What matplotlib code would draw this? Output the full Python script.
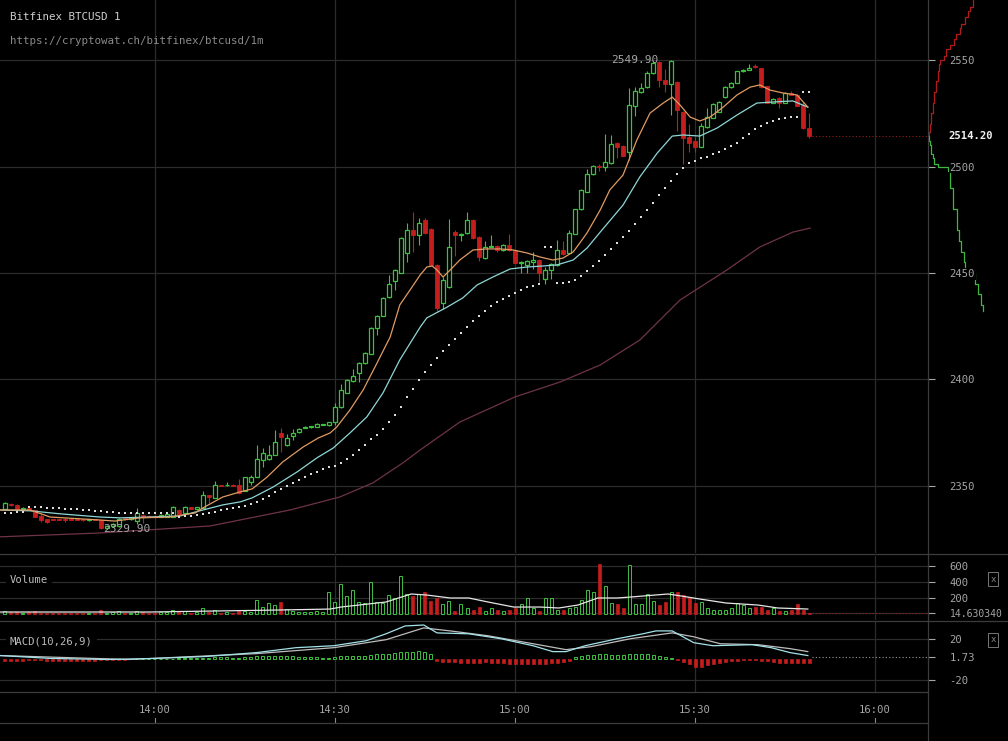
import numpy as np
import matplotlib.pyplot as plt
from matplotlib.lines import Line2D

# Candles, one per minute, first one at 13:35 (minute -25 from 14:00)
first_minute = -25
opens = [2339.2, 2341.6, 2341.1, 2339.2, 2339.6, 2338.5, 2335.8, 2334.4, 2334.4, 2334.4,
         2334.6, 2334.2, 2334.2, 2334.0, 2333.8, 2334.0, 2333.8, 2330.4, 2331.2, 2331.2,
         2334.6, 2334.4, 2333.4, 2336.4, 2336.0, 2335.9, 2335.4, 2335.6, 2335.6, 2338.6,
         2337.4, 2339.9, 2339.2, 2339.7, 2345.6, 2344.4, 2350.3, 2350.2, 2350.4, 2350.5,
         2347.6, 2352.0, 2354.2, 2362.2, 2362.7, 2364.6, 2374.9, 2369.2, 2373.5, 2375.4,
         2377.3, 2377.6, 2377.8, 2378.6, 2378.4, 2380.0, 2387.0, 2393.7, 2399.3, 2403.1,
         2407.5, 2412.0, 2424.2, 2429.8, 2438.7, 2446.2, 2450.0, 2459.4, 2470.2, 2467.8,
         2474.9, 2470.7, 2453.8, 2436.0, 2443.6, 2469.2, 2467.8, 2468.8, 2474.9, 2466.9,
         2457.0, 2462.3, 2462.5, 2460.8, 2463.1, 2460.8, 2454.7, 2453.8, 2455.0, 2456.0,
         2447.2, 2451.4, 2453.8, 2460.8, 2459.4, 2468.4, 2480.0, 2488.0, 2496.5, 2500.4,
         2499.8, 2501.6, 2511.0, 2509.6, 2506.8, 2528.4, 2535.0, 2537.3, 2543.9, 2549.0,
         2540.6, 2538.7, 2539.7, 2525.6, 2513.8, 2512.0, 2509.2, 2518.5, 2522.8, 2525.6,
         2532.6, 2537.3, 2539.2, 2544.8, 2545.3, 2547.3, 2546.2, 2537.8, 2529.8, 2532.2,
         2529.8, 2534.5, 2533.6, 2528.9, 2518.1]
highs = [2342.5, 2341.8, 2341.5, 2340.2, 2339.8, 2338.8, 2336.6, 2334.6, 2334.6, 2334.6,
         2334.8, 2334.4, 2334.4, 2334.2, 2334.2, 2334.2, 2334.0, 2331.8, 2332.6, 2335.0,
         2334.8, 2334.8, 2339.7, 2336.6, 2336.2, 2336.1, 2336.6, 2336.8, 2340.6, 2339.0,
         2340.6, 2340.2, 2340.2, 2347.4, 2345.9, 2352.3, 2350.6, 2351.8, 2350.7, 2353.3,
         2354.4, 2355.2, 2369.2, 2368.0, 2369.2, 2376.3, 2377.3, 2374.4, 2376.8, 2377.0,
         2378.0, 2378.0, 2379.4, 2379.0, 2380.2, 2388.8, 2398.0, 2400.0, 2404.7, 2408.0,
         2413.0, 2424.4, 2430.3, 2438.5, 2449.0, 2451.8, 2466.8, 2473.5, 2478.6, 2475.6,
         2476.0, 2471.0, 2454.0, 2448.0, 2475.2, 2470.0, 2468.6, 2478.6, 2475.2, 2467.2,
         2465.0, 2468.0, 2463.0, 2463.4, 2468.5, 2461.0, 2455.4, 2456.0, 2460.0, 2456.4,
         2453.0, 2454.5, 2465.5, 2465.0, 2470.0, 2480.2, 2489.3, 2498.6, 2500.6, 2501.0,
         2515.5, 2514.7, 2511.4, 2509.9, 2537.0, 2537.5, 2539.0, 2545.0, 2549.4, 2549.4,
         2546.0, 2549.9, 2540.0, 2526.0, 2520.0, 2514.0, 2520.4, 2527.5, 2529.6, 2530.6,
         2537.6, 2539.5, 2545.0, 2545.6, 2548.0, 2548.0, 2546.5, 2538.0, 2532.0, 2532.5,
         2534.8, 2535.6, 2534.0, 2530.2, 2525.0]
lows = [2338.5, 2340.8, 2338.8, 2339.0, 2338.5, 2335.2, 2333.0, 2332.8, 2334.0, 2334.0,
        2333.2, 2333.8, 2333.8, 2333.6, 2333.6, 2333.8, 2329.9, 2330.0, 2330.8, 2330.8,
        2334.2, 2334.2, 2332.0, 2332.8, 2335.2, 2335.0, 2335.2, 2335.4, 2335.2, 2336.2,
        2337.2, 2339.0, 2338.9, 2339.4, 2342.2, 2344.2, 2349.8, 2350.0, 2350.0, 2346.3,
        2347.4, 2350.5, 2354.0, 2359.0, 2362.2, 2364.4, 2366.0, 2368.8, 2371.6, 2375.0,
        2377.0, 2377.4, 2377.6, 2378.4, 2378.2, 2378.6, 2386.6, 2393.5, 2398.8, 2398.6,
        2407.3, 2411.8, 2420.8, 2429.6, 2438.2, 2442.0, 2449.8, 2455.0, 2460.0, 2463.0,
        2468.4, 2453.6, 2432.0, 2433.0, 2443.0, 2458.0, 2464.8, 2468.4, 2466.0, 2455.6,
        2456.8, 2462.0, 2459.8, 2460.4, 2460.4, 2454.5, 2450.0, 2450.0, 2452.0, 2446.0,
        2445.0, 2447.0, 2453.5, 2458.6, 2459.2, 2468.2, 2479.8, 2487.8, 2496.2, 2498.0,
        2497.7, 2501.4, 2504.0, 2504.8, 2503.0, 2523.6, 2534.6, 2537.0, 2543.6, 2537.5,
        2535.0, 2524.2, 2516.8, 2501.0, 2507.0, 2507.0, 2509.0, 2518.0, 2522.6, 2525.4,
        2532.4, 2537.0, 2539.0, 2544.6, 2545.1, 2546.5, 2537.0, 2529.6, 2529.6, 2527.5,
        2529.6, 2533.4, 2528.2, 2517.8, 2513.6]
closes = [2342.0, 2341.1, 2339.2, 2339.8, 2338.8, 2335.4, 2334.0, 2333.2, 2334.2, 2334.2,
          2334.2, 2334.0, 2334.0, 2333.8, 2334.0, 2333.9, 2330.3, 2331.4, 2332.2, 2334.6,
          2334.4, 2334.6, 2337.3, 2335.4, 2335.4, 2335.3, 2336.4, 2336.6, 2340.0, 2336.6,
          2340.0, 2339.3, 2339.9, 2345.8, 2345.0, 2350.5, 2350.0, 2350.6, 2350.1, 2346.7,
          2354.2, 2354.2, 2362.7, 2365.5, 2364.6, 2370.7, 2373.0, 2372.5, 2375.0, 2376.8,
          2377.8, 2377.9, 2379.2, 2378.9, 2380.0, 2387.0, 2395.0, 2399.8, 2401.6, 2407.7,
          2412.4, 2424.2, 2429.8, 2438.3, 2444.8, 2451.4, 2466.4, 2470.2, 2467.8, 2473.5,
          2468.8, 2453.8, 2433.4, 2446.5, 2462.3, 2467.8, 2468.5, 2474.9, 2466.4, 2457.5,
          2462.2, 2462.6, 2460.6, 2463.1, 2460.8, 2454.7, 2455.2, 2455.7, 2456.0, 2450.0,
          2451.4, 2454.2, 2460.8, 2459.0, 2468.8, 2480.0, 2488.8, 2496.5, 2500.3, 2499.9,
          2502.1, 2510.6, 2509.2, 2505.0, 2528.9, 2535.4, 2537.0, 2543.9, 2548.8, 2540.6,
          2538.7, 2549.6, 2526.5, 2513.4, 2511.0, 2509.2, 2519.0, 2523.2, 2529.3, 2530.3,
          2537.3, 2539.2, 2544.8, 2545.3, 2546.2, 2546.8, 2537.3, 2529.8, 2531.7, 2529.8,
          2534.5, 2533.6, 2528.4, 2518.1, 2514.2]
volumes = [40, 25, 30, 15, 20, 35, 15, 10, 8, 10,
           12, 8, 10, 15, 8, 10, 45, 15, 20, 35,
           10, 10, 40, 20, 15, 10, 20, 25, 45, 20,
           35, 15, 20, 80, 30, 55, 15, 20, 15, 35,
           40, 25, 170, 90, 140, 110, 150, 60, 40, 30,
           25, 20, 35, 20, 270, 150, 370, 230, 300, 150,
           135, 400, 150, 135, 235, 205, 475, 245, 220, 245,
           270, 160, 195, 120, 160, 35, 120, 70, 50, 90,
           35, 70, 50, 40, 50, 70, 120, 200, 70, 40,
           200, 200, 50, 50, 70, 90, 175, 300, 280, 620,
           350, 135, 120, 80, 610, 120, 120, 245, 160, 112,
           145, 270, 280, 240, 215, 135, 150, 70, 50, 50,
           50, 70, 135, 112, 70, 90, 90, 50, 70, 37,
           37, 50, 120, 50, 14.630340]
# dotted stop-and-reverse dots, one per candle
sar = [2337.3, 2337.3, 2337.6, 2337.8, 2340.1, 2340.1, 2339.9, 2339.7, 2339.7, 2339.4,
       2339.2, 2339.2, 2339.0, 2338.7, 2338.7, 2338.3, 2338.0, 2337.8, 2337.6, 2337.3,
       2337.3, 2337.3, 2337.3, 2337.3, 2337.3, 2337.3, 2337.3, 2337.3, 2337.3, 2335.4,
       2335.7, 2335.9, 2336.4, 2336.9, 2337.3, 2337.8, 2338.5, 2339.0, 2339.7, 2340.1,
       2340.8, 2341.6, 2342.5, 2343.9, 2345.3, 2347.2, 2348.6, 2350.0, 2351.4, 2352.8,
       2354.2, 2355.4, 2356.7, 2357.8, 2358.8, 2359.4, 2360.9, 2362.5, 2364.6, 2366.9,
       2369.2, 2371.9, 2373.9, 2376.6, 2380.2, 2383.3, 2387.2, 2391.6, 2395.4, 2399.8,
       2403.5, 2406.8, 2410.1, 2413.4, 2416.2, 2419.0, 2421.8, 2424.6, 2427.5, 2429.8,
       2432.2, 2434.5, 2436.4, 2437.8, 2439.2, 2440.6, 2442.0, 2443.4, 2443.9, 2444.8,
       2462.2, 2462.2, 2445.3, 2445.3, 2445.8, 2446.7, 2448.6, 2450.9, 2453.3, 2455.6,
       2458.5, 2461.3, 2464.1, 2466.9, 2469.7, 2473.0, 2476.3, 2479.6, 2482.9, 2486.6,
       2489.9, 2493.2, 2496.5, 2499.3, 2501.6, 2502.6, 2504.0, 2504.5, 2505.9, 2506.8,
       2508.2, 2509.6, 2511.0, 2513.4, 2515.3, 2517.6, 2519.0, 2520.4, 2521.4, 2522.3,
       2522.8, 2523.2, 2523.2, 2535.0, 2535.0]
macd_hist = [-1.5, -1.5, -1.5, -1.5, -1.0, -1.0, -1.0, -1.5,
             -2.0, -2.0, -2.0, -2.0, -2.0, -1.5, -1.5, -1.5, -1.0,
             -1.0, -0.5, -0.5, -0.5, 0.5, 0.5, 0.5, 0.5,
             0.5, 0.5, 0.5, 0.5, 1.0, 1.0, 1.0, 1.0, 1.5,
             1.5, 2.0, 2.0, 2.0, 1.5, 1.5, 2.0, 2.0, 3.0, 3.0, 3.0, 3.5,
             3.5, 3.0, 3.0, 2.5, 2.5, 2.0, 2.0, 1.5, 1.5, 2.0,
             3.0, 3.0, 3.5, 3.0, 3.5, 4.5, 5.0, 5.0, 5.5, 6.0,
             7.0, 7.0, 7.5, 8.0, 7.0, 5.0,
             -1.5, -2.5, -3.0, -3.0, -3.5, -3.5, -3.5, -3.5, -3.0, -3.5, -4.0, -4.0,
             -4.5, -4.5, -5.0, -5.0, -5.0, -5.0, -4.5, -4.0, -3.5, -2.5, -1.5,
             2.0, 3.0, 4.0, 4.5, 5.0, 5.0, 4.5, 4.0, 4.5, 5.0, 5.5, 5.5, 5.0, 4.5, 3.5, 2.0, 1.0,
             -1.0, -3.0, -5.0, -7.0, -7.0, -6.0, -5.0, -4.0, -3.0, -2.0, -1.5, -1.0,
             -1.0, -1.0, -1.5, -2.0, -3.0, -3.5, -3.5, -3.5, -4.0, -4.0, -4.0]

# moving averages read at points (minute from 14:00, price)
fast_ma_t = [-25.8, -20.8, -17.5, -9.2, -6.7, -2.5, 2.5, 6.7, 8, 11.3, 14.2, 16.2, 18.7, 21.3, 24.7,
             27.2, 29.2, 30.3, 32.5, 34.7, 37, 39.2, 40.8, 42.5, 44.2, 45.3, 46.2, 47, 48, 49.2,
             50.8, 53, 55.3, 57.5, 59.7, 62, 64.2, 66.3, 68, 69.7, 70.8, 72, 74.2, 75.8, 78,
             80.3, 82.5, 84.7, 86.2, 87.5, 89.2, 90.8, 92.5, 94.7, 97, 99.2, 100.8, 102.5,
             104.7, 107, 108.8]
fast_ma = [2338.7, 2338.7, 2335.4, 2334.0, 2333.5, 2335.0, 2335.4, 2337.3, 2339.7, 2344.8, 2347.2,
           2348.6, 2354.2, 2361.3, 2368.3, 2372.5, 2374.9, 2377.7, 2385.7, 2395.1, 2407.7, 2420.0,
           2435.0, 2442.0, 2449.1, 2452.8, 2453.3, 2451.4, 2448.1, 2451.4, 2456.1, 2460.8, 2461.3,
           2461.3, 2460.8, 2459.4, 2457.5, 2456.1, 2457.0, 2459.9, 2464.1, 2468.8, 2479.6, 2489.0,
           2496.0, 2512.4, 2525.1, 2529.8, 2532.6, 2528.9, 2523.2, 2521.4, 2523.2, 2527.9, 2533.6,
           2537.3, 2538.3, 2535.9, 2534.5, 2533.6, 2527.9]
mid_ma_t = [-25.8, -20.8, -15.8, -9.2, -5.8, -0.8, 4.2, 8, 11.3, 14.2, 16.2, 19.7, 23.7, 27, 29.7,
            32.5, 35.3, 38, 40.8, 44.2, 45.3, 48.7, 51.3, 53.7, 56.3, 59.2, 62, 64.7, 67, 69.7,
            72, 74.2, 78, 80.8, 83.7, 86.2, 88, 90.8, 93.7, 97, 100.3, 103, 106.3, 108.8]
mid_ma = [2338.7, 2338.3, 2336.9, 2335.4, 2335.0, 2335.4, 2335.9, 2338.7, 2341.1, 2342.5, 2344.4,
          2349.5, 2356.6, 2363.2, 2367.8, 2374.9, 2382.4, 2393.7, 2409.2, 2424.6, 2428.9, 2434.0,
          2438.3, 2444.4, 2448.1, 2451.9, 2452.8, 2453.3, 2453.8, 2456.1, 2461.7, 2469.2, 2481.9,
          2495.1, 2506.3, 2514.3, 2514.8, 2514.3, 2518.1, 2524.2, 2529.8, 2530.3, 2530.8, 2527.9]
slow_ma_t = [-25.8, -9.2, 9.2, 22.5, 30.8, 36.3, 41.3, 44.2, 50.8, 60, 67.5, 74.2, 80.8, 87.5,
             95.3, 100.8, 106.3, 109.2]
slow_ma = [2326.1, 2327.9, 2331.2, 2338.7, 2344.8, 2351.4, 2360.8, 2366.9, 2380.0, 2391.8,
           2398.8, 2406.8, 2418.5, 2437.3, 2451.4, 2462.2, 2469.2, 2471.1]

vol_ma_t = [-25.8, -0.8, 20.8, 29.2, 31, 38.5, 42.7, 45.3, 49.2, 52.3, 55.5, 59.8, 64.2, 67.3,
            70.5, 73.8, 77, 79.2, 85.5, 87.7, 90.8, 95.2, 100.5, 103.8, 108.8]
vol_ma = [25, 25, 50, 62, 87, 150, 250, 237, 200, 200, 150, 87, 87, 75, 112, 200, 200, 212,
          250, 225, 187, 137, 112, 75, 62]

macd_t = [-25.8, -17.3, -7.7, -0.2, 8.5, 17, 23.5, 29.8, 35.2, 38.5, 41.7, 44.8, 47, 52.3, 57.7,
          63, 66.3, 68.5, 71.7, 77, 81.3, 83.5, 86.2, 89.8, 93, 99.5, 102.7, 105.8, 108.8]
macd_line = [3.6, 0.8, -0.2, 0.8, 2.7, 6.5, 11.2, 13.1, 17.9, 24.6, 32.2, 33.1, 25.5, 24.6, 19.8,
             13.1, 7.4, 7.4, 13.1, 19.8, 24.6, 27.4, 27.4, 16.0, 13.1, 14.1, 11.2, 6.5, 3.6]
signal_t = [-25.8, -4.3, 17, 29.8, 38.5, 44.8, 49.2, 55.5, 63, 68.5, 72.7, 79.2, 86.2, 89.8,
            94.2, 100.5, 105.8, 108.8]
signal_line = [3.6, -0.2, 5.5, 11.2, 18.9, 30.3, 27.4, 22.7, 15.0, 9.3, 12.2, 19.8, 25.5, 21.7,
               15.0, 14.1, 10.3, 7.4]
macd_last = 1.73

# order book depth (price, cumulative size)
ask_prices = [2514.2, 2516, 2520, 2525, 2530, 2535, 2540, 2545, 2548, 2550, 2552, 2555, 2557,
              2560, 2562, 2565, 2567, 2570, 2573, 2575, 2578.2]
ask_depth = [0, 1, 2, 3, 4.5, 6, 8, 10, 11, 12, 16, 18, 22, 26, 28, 32, 33, 37, 40, 42, 45]
bid_prices = [2514.2, 2512, 2510, 2506, 2504, 2501, 2500, 2500, 2498, 2490, 2480, 2470, 2465,
              2460, 2455, 2452, 2450, 2445, 2440, 2435, 2432]
bid_depth = [0, 1, 2, 3, 4.5, 6, 10, 19, 19.5, 22, 25, 29, 31, 33, 36, 37, 46, 47, 49.5, 53, 55]

price_ticks = [2350, 2400, 2450, 2500, 2550]
time_ticks = [0, 30, 60, 90, 120]
time_labels = ['14:00', '14:30', '15:00', '15:30', '16:00']

# style
W, H = 1008, 741
BG = 'black'
GRID = '#2c2c2c'
LINE = '#3c3c3c'
TXT = '#a6a6a6'
GREEN = '#3fbf3f'
RED = '#c41d1d'
x_left, x_right = -25.83, 128.83

plt.rcParams['font.family'] = ['DejaVu Sans Mono']
plt.rcParams['font.size'] = 7.6

opens, highs, lows, closes = map(np.array, (opens, highs, lows, closes))
volumes = np.array(volumes)
macd_hist = np.array(macd_hist)
minutes = np.arange(first_minute, first_minute + len(closes))
up = closes >= opens

fig = plt.figure(figsize=(W / 100, H / 100), dpi=100, facecolor=BG)


def add_panel(x0, y0, x1, y1):
    ax = fig.add_axes([x0 / W, 1 - y1 / H, (x1 - x0) / W, (y1 - y0) / H])
    ax.set_facecolor(BG)
    for s in ax.spines.values():
        s.set_visible(False)
    return ax


def style_time_grid(ax):
    ax.set_xlim(x_left, x_right)
    ax.set_xticks(time_ticks)
    ax.tick_params(axis='x', length=0, labelbottom=False)
    ax.grid(True, color=GRID, lw=0.9)
    ax.set_axisbelow(True)
    ax.yaxis.tick_right()
    ax.tick_params(axis='y', colors=TXT, labelcolor=TXT, length=5, width=0.8, pad=10.5,
                   labelsize=7.6)


# price panel
ax_p = add_panel(0, 0, 928, 553)
ax_p.set_zorder(2)
ax_p.set_ylim(2318.5, 2578.2)
style_time_grid(ax_p)
ax_p.set_yticks(price_ticks)
for lab in ax_p.get_yticklabels():
    lab.set_bbox(dict(fc=BG, ec='none', pad=0.6))

body_lo = np.minimum(opens, closes)
body_h = np.maximum(np.abs(closes - opens), 0.45)
ax_p.vlines(minutes[up], lows[up], highs[up], color=GREEN, lw=0.8, zorder=3)
ax_p.vlines(minutes[~up], lows[~up], highs[~up], color=RED, lw=0.8, zorder=3)
ax_p.bar(minutes[up], body_h[up], bottom=body_lo[up], width=0.55, facecolor=BG,
         edgecolor=GREEN, lw=0.9, zorder=4)
ax_p.bar(minutes[~up], body_h[~up], bottom=body_lo[~up], width=0.55, color=RED,
         edgecolor=RED, lw=0.6, zorder=4)

ax_p.plot(slow_ma_t, slow_ma, color='#6e3446', lw=0.9, zorder=2)
ax_p.plot(mid_ma_t, mid_ma, color='#8fd6d6', lw=0.9, zorder=5)
ax_p.plot(fast_ma_t, fast_ma, color='#e09b63', lw=0.9, zorder=5)
ax_p.plot(minutes, sar, 's', ms=1.6, mew=0, color='#dcdcdc', zorder=5)

# last price line and label
ax_p.plot([minutes[-1] + 0.5, x_right], [closes[-1], closes[-1]], color='#8e1f1f',
          ls=(0, (1, 2)), lw=0.8, zorder=3)
ax_p.text(948 / 928, closes[-1], f'{closes[-1]:.2f}', transform=ax_p.get_yaxis_transform(),
          ha='left', va='center', color='#f2f2f2', fontweight='bold', fontsize=7.6,
          bbox=dict(fc=BG, ec='none', pad=0.6), clip_on=False, zorder=6)

# high / low labels
i_hi = int(np.argmax(highs))
i_lo = int(np.argmin(lows))
ax_p.text(minutes[i_hi] - 2.1, highs[i_hi], f'{highs[i_hi]:.2f}', ha='right', va='center',
          color=TXT, fontsize=8, zorder=6)
ax_p.text(minutes[i_lo] + 0.4, lows[i_lo], f'{lows[i_lo]:.2f}', ha='left', va='center',
          color=TXT, fontsize=8, zorder=6)

# order book depth on the right
ax_d = add_panel(928, 0, 1008, 553)
ax_d.set_zorder(1)
ax_d.set_xlim(0, 80)
ax_d.set_ylim(ax_p.get_ylim())
ax_d.set_xticks([])
ax_d.set_yticks([])
ax_d.plot(ask_depth, ask_prices, color='#b01a1a', lw=0.9, drawstyle='steps-post')
ax_d.plot(bid_depth, bid_prices, color='#3cb83c', lw=0.9, drawstyle='steps-post')

# volume panel
ax_v = add_panel(0, 556, 928, 620)
ax_v.set_ylim(-75, 725)
style_time_grid(ax_v)
ax_v.set_yticks([volumes[-1], 200, 400, 600])
ax_v.set_yticklabels([f'{volumes[-1]:.6f}', '200', '400', '600'])
ax_v.get_yticklabels()[0].set_fontsize(7.0)
ax_v.bar(minutes[up], volumes[up], width=0.5, facecolor=BG, edgecolor=GREEN, lw=0.7, zorder=3)
ax_v.bar(minutes[~up], volumes[~up], width=0.5, color=RED, edgecolor=RED, lw=0.5, zorder=3)
ax_v.plot(vol_ma_t, vol_ma, color='#e6e6e6', lw=0.9, zorder=4)
ax_v.plot([minutes[-1] + 0.5, x_right], [volumes[-1], volumes[-1]], color='#8e1f1f',
          ls=(0, (1, 2)), lw=0.8)

# MACD panel
ax_m = add_panel(0, 622, 928, 692)
ax_m.set_ylim(-31.6, 36)
style_time_grid(ax_m)
ax_m.set_yticks([-20, macd_last, 20])
ax_m.set_yticklabels(['-20', f'{macd_last:.2f}', '20'])
ax_m.grid(False, axis='y')
for lvl in (-20, 20):
    ax_m.axhline(lvl, color=GRID, lw=0.9, zorder=0)
pos = macd_hist > 0
ax_m.bar(minutes[pos], macd_hist[pos], width=0.5, facecolor=BG, edgecolor=GREEN, lw=0.7, zorder=3)
ax_m.bar(minutes[~pos], macd_hist[~pos], width=0.5, color=RED, edgecolor=RED, lw=0.5, zorder=3)
ax_m.plot(signal_t, signal_line, color='#bdbdbd', lw=0.9, zorder=4)
ax_m.plot(macd_t, macd_line, color='#a4e2ea', lw=0.9, zorder=5)
ax_m.plot([minutes[-1] + 0.5, x_right], [macd_last, macd_last], color='#9a9a9a',
          ls=(0, (1, 2)), lw=0.8)

# time axis labels below the panels
ax_t = add_panel(0, 692, 928, 741)
ax_t.set_xlim(x_left, x_right)
ax_t.set_ylim(741, 692)
ax_t.set_xticks([])
ax_t.set_yticks([])
for t, lab in zip(time_ticks, time_labels):
    ax_t.text(t, 710, lab, ha='center', va='center', color=TXT, fontsize=7.6)
    ax_t.plot([t, t], [718, 722], color='#8a8a8a', lw=0.8)

# panel separators
def fig_line(x0, y0, x1, y1):
    fig.add_artist(Line2D([x0 / W, x1 / W], [1 - y0 / H, 1 - y1 / H], color=LINE, lw=0.9,
                          zorder=3))


fig_line(928, 0, 928, 741)
fig_line(0, 554, 1008, 554)
fig_line(0, 621, 1008, 621)
fig_line(0, 692, 928, 692)
fig_line(0, 723, 928, 723)

# header and panel titles
fig.text(10 / W, 1 - 17 / H, 'Bitfinex BTCUSD 1', color='#cfcfcf', fontsize=7.8, va='center')
fig.text(10 / W, 1 - 41 / H, 'https://cryptowat.ch/bitfinex/btcusd/1m', color='#8a8a8a',
         fontsize=7.8, va='center')
fig.text(10 / W, 1 - 580 / H, 'Volume', color='#bcbcbc', fontsize=7.6, va='center', zorder=5,
         bbox=dict(fc=BG, ec='none', pad=3))
fig.text(10 / W, 1 - 641 / H, 'MACD(10,26,9)', color='#bcbcbc', fontsize=7.6, va='center',
         zorder=5, bbox=dict(fc=BG, ec='none', pad=3))
for yy in (579, 640):
    fig.text(993 / W, 1 - yy / H, 'x', color='#8a8a8a', fontsize=6.5, ha='center', va='center',
             bbox=dict(fc='none', ec='#777777', lw=0.7, pad=1.5))

fig.savefig('out.png', dpi=100, facecolor=BG)
